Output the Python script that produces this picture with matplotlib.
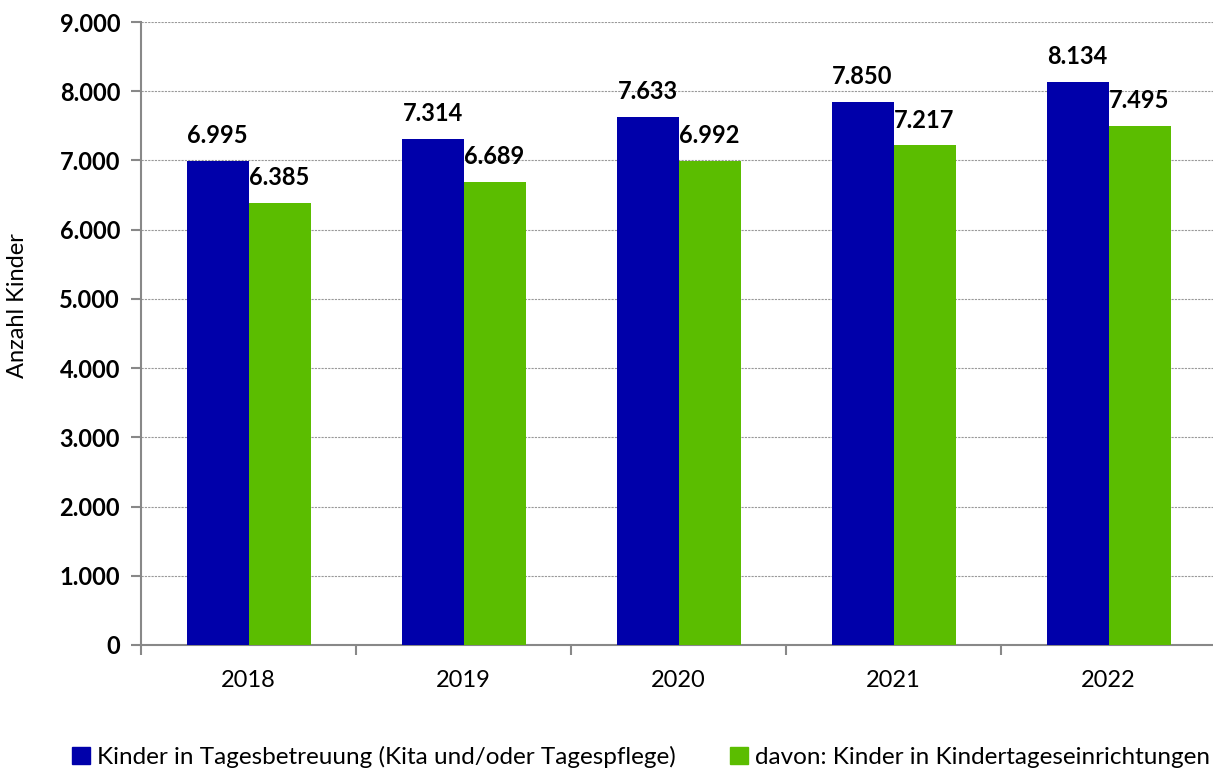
import matplotlib
matplotlib.use("Agg")
import matplotlib.pyplot as plt
import numpy as np
from matplotlib.patches import Patch

years = ["2018", "2019", "2020", "2021", "2022"]
total = [6995, 7314, 7633, 7850, 8134]
kita = [6385, 6689, 6992, 7217, 7495]
series_names = ["Kinder in Tagesbetreuung (Kita und/oder Tagespflege)",
                "davon: Kinder in Kindertageseinrichtungen"]
colors = ["#0000AA", "#5BBD00"]

plt.rcParams['font.family'] = ['Lato', 'DejaVu Sans']

W, H = 1213, 772
fig = plt.figure(figsize=(W/100, H/100), dpi=100)
left, right, top, bottom = 141, 1216, 22, 645
ax = fig.add_axes([left/W, 1-bottom/H, (right-left)/W, (bottom-top)/H])

x = np.arange(len(years))
bw = 62/215
ax.bar(x - bw/2, total, bw, color=colors[0], zorder=3)
ax.bar(x + bw/2, kita, bw, color=colors[1], zorder=3)

def fmt(v):
    return f"{v:,}".replace(",", ".")

for xi, v in zip(x, total):
    ax.annotate(fmt(v), (xi - bw/2, v), xytext=(0, 10), textcoords="offset points",
                ha="center", va="bottom", fontsize=17, fontweight="bold")
for xi, v in zip(x, kita):
    ax.annotate(fmt(v), (xi + bw/2, v), xytext=(0, 10), textcoords="offset points",
                ha="center", va="bottom", fontsize=17, fontweight="bold")

ax.set_xlim(-0.5, 4.5)
ax.set_ylim(0, 9000)
ax.set_yticks(np.arange(0, 9001, 1000))
ax.set_yticklabels([fmt(v) for v in range(0, 9001, 1000)], fontsize=17, fontweight="bold")
ax.yaxis.grid(True, linestyle=(0, (2, 1)), color="#999999", linewidth=0.8, zorder=0)

ax.set_xticks(np.arange(-0.5, 4.51, 1.0))
ax.set_xticklabels([])
ax.set_xticks(x, minor=True)
ax.set_xticklabels(years, minor=True, fontsize=17)
ax.tick_params(axis="x", which="minor", length=0, pad=18)
ax.tick_params(axis="x", which="major", length=7, width=1.5, color="#888888", direction="out")
ax.tick_params(axis="y", length=7, width=1.5, color="#888888", direction="out", pad=8)

for s in ["top", "right"]:
    ax.spines[s].set_visible(False)
for s in ["left", "bottom"]:
    ax.spines[s].set_color("#888888")
    ax.spines[s].set_linewidth(1.5)

ax.set_ylabel("Anzahl Kinder", fontsize=17, va="center")
ax.yaxis.set_label_coords((18 - left) / (right - left), (bottom - 306) / (bottom - top))

handles = [Patch(color=colors[0]), Patch(color=colors[1])]
fig.legend(handles, series_names, loc="center", bbox_to_anchor=(641/W, 1-757/H),
           ncol=2, frameon=False, fontsize=17.5, handlelength=0.75, handleheight=0.75,
           handletextpad=0.3, columnspacing=2.2)

fig.savefig("out.png", dpi=100)
